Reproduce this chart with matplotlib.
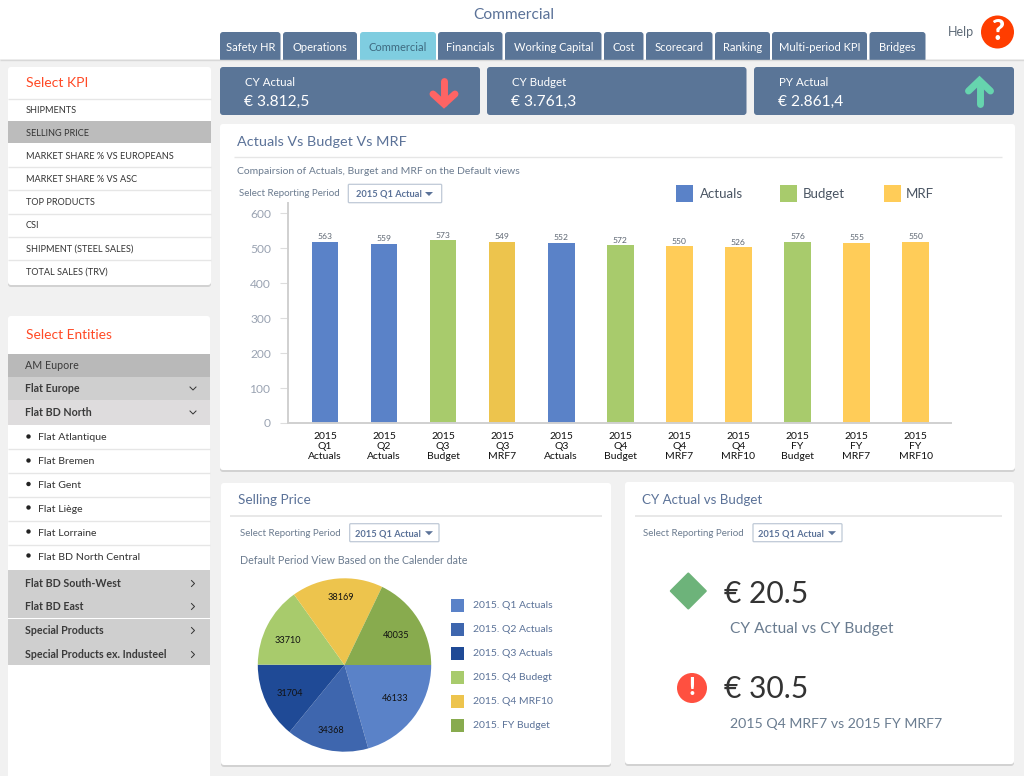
import matplotlib
matplotlib.use("Agg")
import matplotlib.pyplot as plt
from matplotlib.patches import FancyBboxPatch, Rectangle, Circle, Polygon

plt.rcParams['font.family'] = ['Lato', 'DejaVu Sans']

# ---------- data ----------
tabs = ["Safety HR", "Operations", "Commercial", "Financials", "Working Capital", "Cost",
        "Scorecard", "Ranking", "Multi-period KPI", "Bridges"]
kpi_items = ["SHIPMENTS", "SELLING PRICE", "MARKET SHARE % VS EUROPEANS", "MARKET SHARE % VS ASC",
             "TOP PRODUCTS", "CSI", "SHIPMENT (STEEL SALES)", "TOTAL SALES (TRV)"]
card_titles = ["CY Actual", "CY Budget", "PY Actual"]
card_values = ["€ 3.812,5", "€ 3.761,3", "€ 2.861,4"]

bar_periods = ["2015\nQ1\nActuals", "2015\nQ2\nActuals", "2015\nQ3\nBudget", "2015\nQ3\nMRF7",
               "2015\nQ3\nActuals", "2015\nQ4\nBudget", "2015\nQ4\nMRF7", "2015\nQ4\nMRF10",
               "2015\nFY\nBudget", "2015\nFY\nMRF7", "2015\nFY\nMRF10"]
bar_heights = [519, 513, 523, 519, 516, 509, 507, 504, 519, 516, 519]
bar_labels = [563, 559, 573, 549, 552, 572, 550, 526, 576, 555, 550]
bar_kinds = ["Actuals", "Actuals", "Budget", "MRF7Q3", "Actuals", "Budget", "MRF", "MRF", "Budget", "MRF", "MRF"]

pie_names = ["2015. Q1 Actuals", "2015. Q2 Actuals", "2015. Q3 Actuals", "2015. Q4 Budegt",
             "2015. Q4 MRF10", "2015. FY Budget"]
pie_values = [46133, 34368, 31704, 33710, 38169, 40035]

# ---------- styles ----------
W, H = 1024, 776
BLUE = "#5A7597"
TITLE = "#5B7298"
GREY = "#6B7B8F"
kind_colors = {"Actuals": "#5A82C8", "Budget": "#A8CB6C", "MRF": "#FFCC58", "MRF7Q3": "#EDC44D"}
pie_colors = ["#5A82C8", "#3E66AE", "#1F4A96", "#A8CB6C", "#EDC44D", "#88AB4E"]
pie_label_nudges = [(0, -5), (-1, 4), (2.5, 2), (0, 4.5), (2, -4.5), (-2, 4)]

fig = plt.figure(figsize=(W / 100, H / 100), dpi=100, facecolor="#F1F1F1")
ui = fig.add_axes([0, 0, 1, 1])
ui.set_xlim(0, W)
ui.set_ylim(H, 0)
ui.axis("off")


def px(s):
    return s * 72 / 100


def T(x, y, s, size, color="#333333", ha="left", weight="normal", ax=ui):
    ax.text(x, y + 1, s, fontsize=px(size), color=color, ha=ha, va="center", fontweight=weight, zorder=6)


def rect(x0, y0, x1, y1, color, z=2):
    ui.add_patch(Rectangle((x0, y0), x1 - x0, y1 - y0, fc=color, ec="none", zorder=z))


def card(x0, y0, x1, y1, color="white", shadow=True, r=3):
    if shadow:
        ui.add_patch(FancyBboxPatch((x0 + r, y0 + r + 2), x1 - x0 - 2 * r, y1 - y0 - 2 * r,
                                    boxstyle=f"round,pad={r}", fc="#D2D2D2", ec="none", zorder=1))
    ui.add_patch(FancyBboxPatch((x0 + r, y0 + r), x1 - x0 - 2 * r, y1 - y0 - 2 * r,
                                boxstyle=f"round,pad={r}", fc=color, ec="none", zorder=2))


def hline(x0, x1, y, color="#E6E6E6", lw=1.0):
    ui.plot([x0, x1], [y, y], color=color, lw=lw, zorder=3, solid_capstyle="butt")


def dropdown(x0, x1, y0, y1, tx, trix):
    ui.add_patch(FancyBboxPatch((x0 + 1, y0 + 1), x1 - x0 - 2, y1 - y0 - 2, boxstyle="round,pad=1",
                                fc="white", ec="#BFC9D6", lw=0.9, zorder=3))
    T(tx, (y0 + y1) / 2, "2015 Q1 Actual", 9.3, TITLE, weight="bold")
    ym = (y0 + y1) / 2
    ui.add_patch(Polygon([(trix - 4, ym - 1.5), (trix + 4, ym - 1.5), (trix, ym + 2.5)], fc=TITLE, ec="none", zorder=4))


def chevron(x, y, down):
    if down:
        pts = ([x - 3, x, x + 3], [y - 1, y + 2, y - 1])
    else:
        pts = ([x - 1.5, x + 1.5, x - 1.5], [y - 2.5, y + 0.5, y + 3.5])
    ui.plot(*pts, color="#333333", lw=0.7, zorder=5)


# ---------- header ----------
rect(0, 0, W, 59, "white", z=0.5)
hline(0, W, 59.5, "#D8D8D8")
T(514, 14, "Commercial", 15.5, TITLE, ha="center")
tab_edges = [(220, 280.5), (283, 357), (360, 436), (438, 502.5), (505, 601.5),
             (604, 643.5), (646, 712.5), (715, 770), (772, 867), (869.5, 925.5)]
for name, (x0, x1) in zip(tabs, tab_edges):
    active = name == "Commercial"
    ui.add_patch(FancyBboxPatch((x0 + 3, 35), x1 - x0 - 6, 24, boxstyle="round,pad=3",
                                fc="#7FCDE0" if active else BLUE, ec="none", zorder=1))
    T((x0 + x1) / 2, 46.5, name, 11.1, "#3E6A80" if active else "white", ha="center")
rect(0, 59.5, W, 66, "#F1F1F1", z=1.5)
T(948, 31, "Help", 12.5, "#5F6B78")
ui.add_patch(Circle((997.5, 32), 16.5, fc="#FF3D00", ec="none", zorder=3))
T(997.5, 31, "?", 28, "white", ha="center", weight="black")

# ---------- KPI cards ----------
card_x = [(220, 480), (487, 746.5), (754, 1014)]
for (x0, x1), t, v in zip(card_x, card_titles, card_values):
    card(x0, 67, x1, 115, BLUE, shadow=False)
    T(x0 + 25, 81.5, t, 11.5, "white")
    T(x0 + 24, 100.5, v, 15.5, "white")
# down arrow
ui.plot([444, 444], [81, 103], color="#FF6464", lw=5, zorder=4, solid_capstyle="round")
ui.plot([433, 444, 455], [94, 104, 94], color="#FF6464", lw=5, zorder=4, solid_capstyle="round", solid_joinstyle="miter")
# up arrow
ui.plot([979.5, 979.5], [83, 104], color="#66D4AE", lw=5, zorder=4, solid_capstyle="round")
ui.plot([968.5, 979.5, 990.5], [91, 80.5, 91], color="#66D4AE", lw=5, zorder=4, solid_capstyle="round", solid_joinstyle="miter")

# ---------- left panel: KPI ----------
card(8, 67, 211, 285)
T(26.5, 82, "Select KPI", 14, "#FF4A26")
rect(8, 121, 211, 143, "#BCBCBC")
for y in [98.5, 166.5, 190, 213.5, 237, 259.5]:
    hline(8, 211, y)
kpi_y = [109.5, 132.5, 155.5, 178.5, 201.5, 224.5, 248.5, 271.5]
for y, s in zip(kpi_y, kpi_items):
    T(26, y, s, 9.2, "#333333")

# ---------- left panel: entities ----------
card(8, 316, 210, 800, shadow=False)
T(26, 334, "Select Entities", 13.8, "#FF4A26")
rows = [(354, 377, "#B9B9B9", "AM Eupore", 365, False, None),
        (377, 400, "#CFCFCF", "Flat Europe", 388, True, "d"),
        (400, 425, "#DEDCDD", "Flat BD North", 412, True, "d"),
        (570, 594.5, "#CFCFCF", "Flat BD South-West", 583, True, "r"),
        (595, 618, "#CFCFCF", "Flat BD East", 606, True, "r"),
        (618.5, 642.5, "#CFCFCF", "Special Products", 630, True, "r"),
        (643, 664.5, "#CFCFCF", "Special Products ex. Industeel", 654, True, "r")]
for y0, y1, c, s, ty, bold, chev in rows:
    rect(8, y0, 210, y1, c)
    T(25, ty - 0.5, s, 10.6, "#3A3A3A", weight="bold" if bold else "normal")
    if chev:
        chevron(193, ty, chev == "d")
children = ["Flat Atlantique", "Flat Bremen", "Flat Gent", "Flat Liège", "Flat Lorraine", "Flat BD North Central"]
child_y = [437, 461, 484.5, 508, 532, 556]
for y, s in zip(child_y, children):
    ui.add_patch(Circle((28.5, y - 0.5), 2.2, fc="#222222", ec="none", zorder=4))
    T(37.5, y, s, 10.5, "#333333")
for y in [448.5, 472.5, 496.5, 520.5, 545]:
    hline(8, 210, y)

# ---------- main bar card ----------
card(220, 124, 1015, 470)
T(237, 141.5, "Actuals Vs Budget Vs MRF", 14.4, TITLE)
hline(234, 1002, 156.7)
T(237, 170.5, "Compairsion of Actuals, Burget and MRF on the Default views", 10.35, GREY)
T(238.7, 192, "Select Reporting Period", 9.8, GREY)
dropdown(348.3, 441.7, 184.3, 202.7, 356.5, 429)
for x, c, s, tx in [(676, "#5A82C8", "Actuals", 700), (780, "#A8CB6C", "Budget", 802.7), (884, "#FFCC58", "MRF", 906)]:
    rect(x, 185, x + 16.5, 201.5, c, z=4)
    T(tx, 193, s, 13.2, "#4A5563")

ax = fig.add_axes([288 / W, 1 - 423 / H, (951 - 288) / W, (423 - 203) / H], zorder=3)
ax.patch.set_alpha(0)
x = list(range(len(bar_heights)))
bars = ax.bar(x, bar_heights, width=0.45, color=[kind_colors[k] for k in bar_kinds])
ax.bar_label(bars, labels=[str(v) for v in bar_labels], padding=1, fontsize=px(8.5), color="#5B6470")
ax.set_xlim(-0.627, 10.6)
ax.set_ylim(0, 630)
ax.set_yticks(range(0, 601, 100))
ax.set_xticks(x)
ax.set_xticklabels(bar_periods, fontsize=px(10.4), color="#111111", linespacing=1.15)
ax.tick_params(axis="x", length=0, pad=6.5)
ax.tick_params(axis="y", length=8 * 0.72, width=0.8, color="#DDDDDD", labelcolor="#9AA3B2", labelsize=px(12), pad=6.5)
for s in ["top", "right"]:
    ax.spines[s].set_visible(False)
for s in ["left", "bottom"]:
    ax.spines[s].set_color("#D0D0D0")
    ax.spines[s].set_linewidth(1.4)

# ---------- pie card ----------
card(221, 483, 611, 765)
T(238, 498.5, "Selling Price", 13.6, TITLE)
hline(230, 602, 515.7, lw=1.3)
T(240, 532.5, "Select Reporting Period", 9.8, GREY)
dropdown(349.7, 439, 523.7, 541.7, 355, 429)
T(239.7, 559.5, "Default Period View Based on the Calender date", 10.6, GREY)

R = 86.7
pie_ax = fig.add_axes([(344.5 - R) / W, 1 - (665 + R) / H, 2 * R / W, 2 * R / H], zorder=3)
pie_total = sum(pie_values)
wedges, _, autotexts = pie_ax.pie(pie_values, colors=pie_colors, startangle=0, counterclock=False, radius=1,
                                  autopct=lambda p: f"{p * pie_total / 100:.0f}", pctdistance=0.73,
                                  textprops={"fontsize": px(9.2), "color": "#111111"})
for t, (dx, dy) in zip(autotexts, pie_label_nudges):
    tx, ty = t.get_position()
    t.set_position((tx + dx / R, ty - dy / R))
pie_ax.set_xlim(-1, 1)
pie_ax.set_ylim(-1, 1)
leg_y = [605, 629, 653, 677, 701, 725]
for y, s, c in zip(leg_y, pie_names, pie_colors):
    rect(450.7, y - 6.5, 464, y + 6.5, c, z=4)
    T(473.3, y - 0.5, s, 10.4, TITLE)

# ---------- right card ----------
card(625, 482, 1014, 764)
T(642.5, 498.5, "CY Actual vs Budget", 13.4, TITLE)
hline(635, 1002, 515.7, lw=1.3)
T(643, 532.5, "Select Reporting Period", 9.8, GREY)
dropdown(753, 842, 523.7, 541.7, 758, 832)
ui.add_patch(Polygon([(688.3, 573.5), (705.8, 591), (688.3, 608.5), (670.8, 591)], closed=True,
                     fc="#6DB37A", ec="#6DB37A", lw=1.5, joinstyle="round", zorder=4))
T(724, 593, "€ 20.5", 30, "#333333")
T(730, 627.5, "CY Actual vs CY Budget", 15.5, "#6A7C90")
ui.add_patch(Circle((692, 688), 15, fc="#FF5040", ec="none", zorder=4))
T(692, 686.5, "!", 24, "white", ha="center", weight="black")
T(724, 688.5, "€ 30.5", 30, "#333333")
T(730, 723, "2015 Q4 MRF7 vs 2015 FY MRF7", 14.1, "#6A7C90")

fig.savefig("out.png", dpi=100, facecolor=fig.get_facecolor())
